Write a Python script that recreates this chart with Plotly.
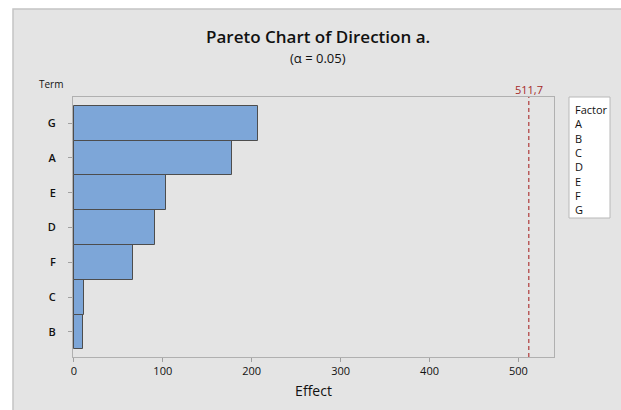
import plotly.graph_objects as go

# Standardized effects per factor (bottom to top of the chart)
terms = ["B", "C", "F", "D", "E", "A", "G"]
effects = [10.5, 11.6, 66.7, 91.4, 103.7, 178.0, 207.0]
critical_value = 511.7
critical_label = "511,7"
factors = ["A", "B", "C", "D", "E", "F", "G"]
x_ticks = [0, 100, 200, 300, 400, 500]

W, H = 621, 410
L, R, T, B = 73, 554, 97, 357  # plot area in pixels
pw, ph = R - L, B - T


def px_x(p):
    return (p - L) / pw


def px_y(p):
    return (B - p) / ph


FONT = "Open Sans"
INK = "#111111"

fig = go.Figure()
fig.add_trace(go.Bar(
    y=terms, x=effects, orientation="h",
    marker=dict(color="#7DA6D8", line=dict(color="#4d4d4d", width=1)),
    width=1.0, showlegend=False, hoverinfo="x+y",
))

shapes = [
    # grey panel behind everything
    dict(type="rect", xref="paper", yref="paper", layer="below",
         x0=px_x(13), x1=px_x(W + 20), y0=px_y(H + 20), y1=px_y(9),
         fillcolor="#e4e4e4", line=dict(color="#c4c4c4", width=1.5)),
    # critical value reference line
    dict(type="line", xref="x", yref="paper", x0=critical_value, x1=critical_value,
         y0=0, y1=1, line=dict(color="#a51818", width=1, dash="4px,3px")),
    # factor box
    dict(type="rect", xref="paper", yref="paper",
         x0=px_x(569), x1=px_x(610), y0=px_y(218), y1=px_y(97),
         fillcolor="white", line=dict(color="#b8b8b8", width=1)),
]

annotations = [
    dict(text="Pareto Chart of Direction a.", xref="paper", yref="paper",
         x=px_x(318), y=px_y(37), xanchor="center", yanchor="middle",
         showarrow=False, font=dict(family=FONT, size=17, color=INK, weight=600)),
    dict(text="(α = 0.05)", xref="paper", yref="paper",
         x=px_x(318), y=px_y(58), xanchor="center", yanchor="middle",
         showarrow=False, font=dict(family=FONT, size=13, color=INK)),
    dict(text="Term", xref="paper", yref="paper",
         x=px_x(37), y=px_y(84), xanchor="left", yanchor="middle",
         showarrow=False, font=dict(family=FONT, size=10, color=INK)),
    dict(text=critical_label, xref="x", yref="paper",
         x=critical_value, y=px_y(89), xanchor="center", yanchor="middle",
         showarrow=False, font=dict(family=FONT, size=11, color="#a52a2a")),
    dict(text="<br>".join(["Factor"] + factors), xref="paper", yref="paper",
         x=px_x(573), y=px_y(100), xanchor="left", yanchor="top", align="left",
         showarrow=False, font=dict(family=FONT, size=11, color=INK)),
]

fig.update_layout(
    width=W, height=H,
    margin=dict(l=L, r=W - R, t=T, b=H - B, pad=0),
    paper_bgcolor="white", plot_bgcolor="white",
    bargap=0,
    shapes=shapes, annotations=annotations,
    font=dict(family=FONT, size=11, color=INK),
    xaxis=dict(
        range=[-1, 540], tickvals=x_ticks, ticks="outside", ticklen=4,
        tickcolor="#a0a0a0", showgrid=False, zeroline=False,
        showline=True, linecolor="#b0b0b0", mirror=True,
        tickfont=dict(family=FONT, size=11, color=INK),
        title=dict(text="Effect", font=dict(family=FONT, size=14, color=INK),
                   standoff=8),
    ),
    yaxis=dict(
        type="category", categoryorder="array", categoryarray=terms,
        range=[-0.72, 6.75], ticks="outside", ticklen=4, tickcolor="#a0a0a0",
        showgrid=False, zeroline=False, showline=True, linecolor="#b0b0b0",
        mirror=True, ticklabelstandoff=10,
        tickfont=dict(family=FONT, size=11, color=INK, weight=600),
    ),
)

fig.write_html("out.html")
